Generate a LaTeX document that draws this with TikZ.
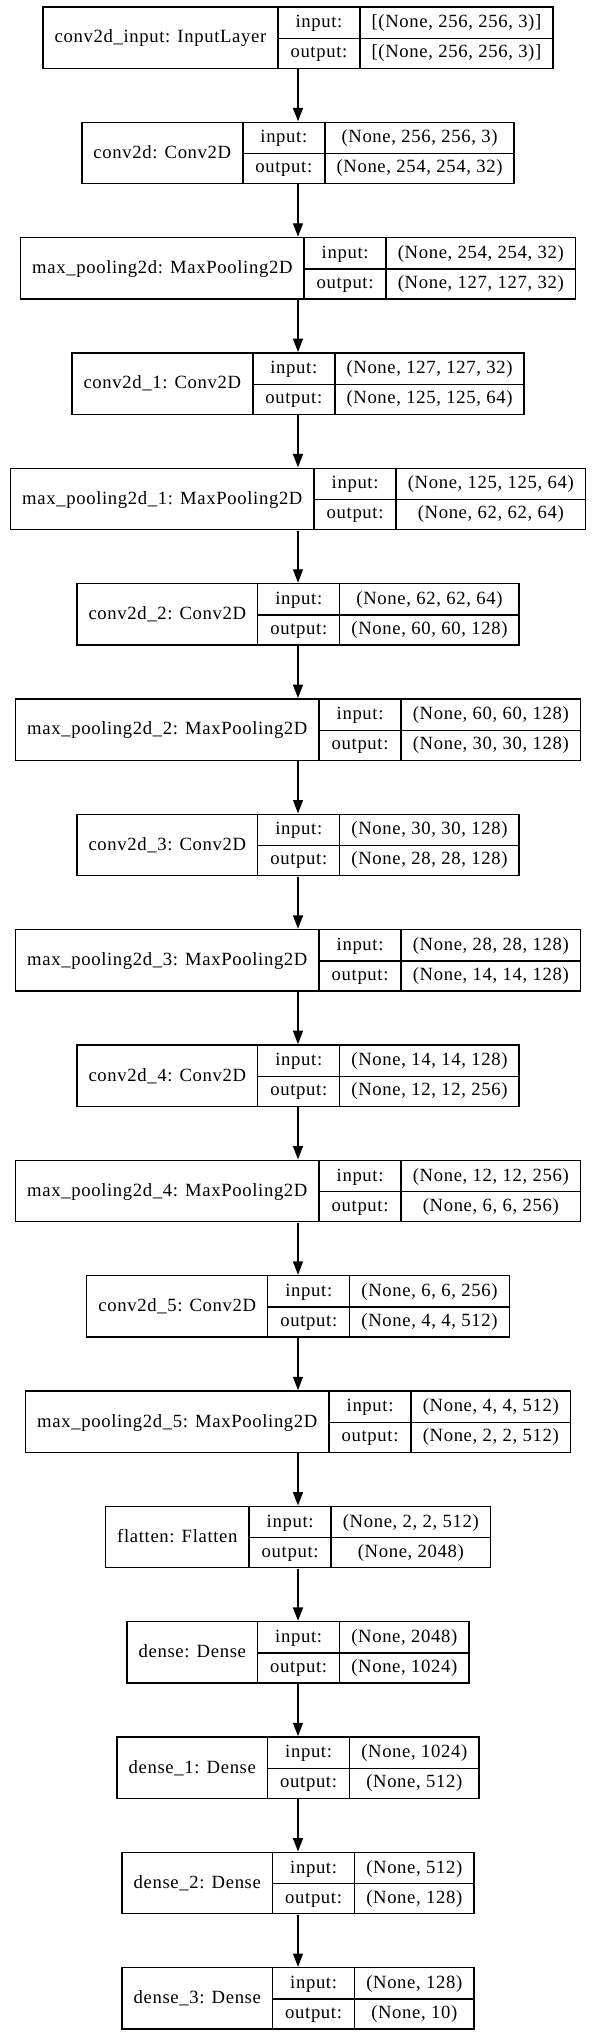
\documentclass[tikz,border=0pt]{standalone}
\usepackage{fontspec}
\setmainfont{Liberation Serif}[LetterSpace=3.5]
\usepackage{array}
\usetikzlibrary{arrows.meta,positioning}

\setlength{\arrayrulewidth}{1pt}
\setlength{\tabcolsep}{8.25pt}
\newcommand{\rowstrut}{\rule[-7.5pt]{0pt}{22.5pt}}
\newcommand{\layerbox}[3]{%
  \begin{tabular}{|c|w{c}{44pt}|c|}\hline
    & input:\rowstrut & #2\\ \cline{2-3}
    \raisebox{11pt}[0pt][0pt]{#1} & output:\rowstrut & #3\\ \hline
  \end{tabular}}

\tikzset{
  layer/.style={inner sep=0pt, font=\fontsize{14pt}{17pt}\selectfont},
  arr/.style={-{Triangle[length=10pt,width=7.5pt]}, line width=1pt}
}

\begin{document}
\begin{tikzpicture}[x=0.75pt,y=-0.75pt]
  \useasboundingbox (0,0) rectangle (593,2036);

  \node[layer] (in) at (298,37.5)
    {\layerbox{conv2d\_input: InputLayer}{[(None, 256, 256, 3)]}{[(None, 256, 256, 3)]}};
  \node[layer] (c0) at (298,152.85)
    {\layerbox{conv2d: Conv2D}{(None, 256, 256, 3)}{(None, 254, 254, 32)}};
  \node[layer] (p0) at (298,268.2)
    {\layerbox{max\_pooling2d: MaxPooling2D}{(None, 254, 254, 32)}{(None, 127, 127, 32)}};
  \node[layer] (c1) at (298,383.55)
    {\layerbox{conv2d\_1: Conv2D}{(None, 127, 127, 32)}{(None, 125, 125, 64)}};
  \node[layer] (p1) at (298,498.9)
    {\layerbox{max\_pooling2d\_1: MaxPooling2D}{(None, 125, 125, 64)}{(None, 62, 62, 64)}};
  \node[layer] (c2) at (298,614.25)
    {\layerbox{conv2d\_2: Conv2D}{(None, 62, 62, 64)}{(None, 60, 60, 128)}};
  \node[layer] (p2) at (298,729.6)
    {\layerbox{max\_pooling2d\_2: MaxPooling2D}{(None, 60, 60, 128)}{(None, 30, 30, 128)}};
  \node[layer] (c3) at (298,844.95)
    {\layerbox{conv2d\_3: Conv2D}{(None, 30, 30, 128)}{(None, 28, 28, 128)}};
  \node[layer] (p3) at (298,960.3)
    {\layerbox{max\_pooling2d\_3: MaxPooling2D}{(None, 28, 28, 128)}{(None, 14, 14, 128)}};
  \node[layer] (c4) at (298,1075.65)
    {\layerbox{conv2d\_4: Conv2D}{(None, 14, 14, 128)}{(None, 12, 12, 256)}};
  \node[layer] (p4) at (298,1191)
    {\layerbox{max\_pooling2d\_4: MaxPooling2D}{(None, 12, 12, 256)}{(None, 6, 6, 256)}};
  \node[layer] (c5) at (298,1306.35)
    {\layerbox{conv2d\_5: Conv2D}{(None, 6, 6, 256)}{(None, 4, 4, 512)}};
  \node[layer] (p5) at (298,1421.7)
    {\layerbox{max\_pooling2d\_5: MaxPooling2D}{(None, 4, 4, 512)}{(None, 2, 2, 512)}};
  \node[layer] (flat) at (298,1537.05)
    {\layerbox{flatten: Flatten}{(None, 2, 2, 512)}{(None, 2048)}};
  \node[layer] (d0) at (298,1652.4)
    {\layerbox{dense: Dense}{(None, 2048)}{(None, 1024)}};
  \node[layer] (d1) at (298,1767.75)
    {\layerbox{dense\_1: Dense}{(None, 1024)}{(None, 512)}};
  \node[layer] (d2) at (298,1883.1)
    {\layerbox{dense\_2: Dense}{(None, 512)}{(None, 128)}};
  \node[layer] (d3) at (298,1998.45)
    {\layerbox{dense\_3: Dense}{(None, 128)}{(None, 10)}};

  % edges between layers
  \foreach \a/\b in {in/c0, c0/p0, p0/c1, c1/p1, p1/c2, c2/p2, p2/c3, c3/p3,
                     p3/c4, c4/p4, p4/c5, c5/p5, p5/flat, flat/d0, d0/d1, d1/d2, d2/d3}
    \draw[arr] (\a) -- (\b);
\end{tikzpicture}
\end{document}
